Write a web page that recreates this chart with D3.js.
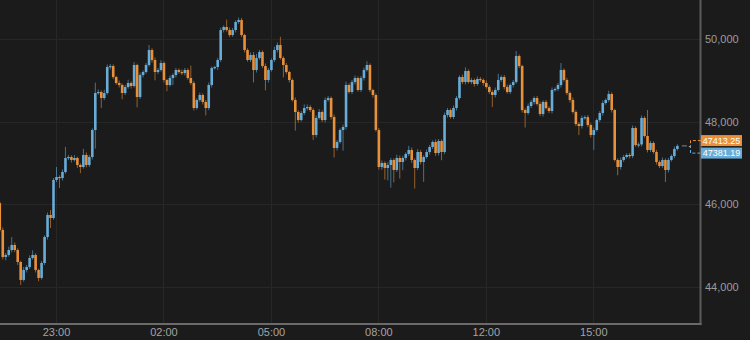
<!DOCTYPE html>
<html>
<head>
<meta charset="utf-8">
<script src="https://cdn.jsdelivr.net/npm/d3@7"></script>
<style>
  body { margin: 0; background: #1b1b1b; }
  svg { display: block; font-family: "Liberation Sans", Arial, sans-serif; }
</style>
</head>
<body>
<div id="chart"></div>
<script>
// 5-minute closes
const closes = [
  45379, 44726, 44775, 44895, 45016, 44895, 44605, 44171, 44412, 44484,
  44702, 44775, 44412, 44219, 44581, 45210, 45742, 45669, 46589, 46661,
  46637, 46782, 47121, 47145, 47073, 47121, 46952, 46903, 47194, 46952,
  47145, 47798, 48693, 48718, 48572, 48693, 49322, 49346, 49080, 48935,
  48887, 48693, 48838, 48935, 48863, 49371, 48597,
  49129, 49201, 49371, 49734, 49492, 49201, 49250, 49419, 49008, 48887,
  49056, 49129, 49250, 49201, 49177, 49250, 49056, 48935, 48330, 48524,
  48645, 48476, 48330, 48887, 49298, 49322, 49492, 50217, 50290, 50217,
  50096, 50217, 50411, 50459, 50096, 49734,
  49492, 49613, 49250, 49540, 49685, 49346, 49008, 49250, 49492, 49734, 49854,
  49540, 49371, 49201, 49008, 48524, 48234, 48040, 48209, 48330, 48355,
  48282, 47677, 48089, 48234, 48040, 48524, 48572, 48113, 47363, 47508,
  47798, 47871, 48887, 48718, 48959, 49056, 48766, 49056, 49250, 49371,
  48766, 48645, 47798, 46903, 47000, 46879, 46952, 47073, 46831, 47121,
  47024, 47121, 47218, 47315, 47073, 46879, 47266,
  47024, 47145, 47266, 47387, 47508, 47242, 47532, 47266, 48161, 48282,
  48113, 48330, 48572, 49080, 48959, 49225, 48959, 49008, 48911, 49032,
  49008, 48935, 48838, 48718, 48645, 48766, 49008, 49080, 48838, 48718,
  48887, 48959, 49588, 49346, 48282, 48209, 48379, 48476, 48572, 48427,
  48185, 48476, 48330, 48258, 48766, 48790, 48887,
  49250, 49008, 48693, 48524, 48234, 47943, 47895, 48089, 48110, 47919,
  47677, 47798, 48040, 48209, 48451, 48524, 48669, 48282, 47073, 46903,
  47073, 47145, 47194, 47169, 47847, 47436, 47450, 48089, 47653, 47315,
  47484, 47266, 47024, 46927, 47073, 46831, 47073, 47169, 47339, 47413.25
];
const firstOpen = 46030;

// wick length above / below the body, in points
const wickHi = [
  40, 60, 50, 80, 190, 60, 40, 30, 70, 50,
  60, 110, 40, 30, 50, 40, 60, 120, 50, 240,
  40, 60, 270, 50, 40, 70, 30, 40, 150, 60,
  50, 40, 250, 60, 40, 80, 60, 50, 40, 30,
  60, 40, 50, 80, 40, 70, 30, 60, 40, 50,
  120, 40, 60, 50, 70, 40, 30, 60, 40, 50,
  40, 60, 50, 40, 300, 50, 40, 60, 40, 50,
  60, 40, 30, 50, 60, 40, 180, 60, 50, 40,
  60, 50, 30, 40, 60, 70, 100, 50, 40, 60,
  50, 40, 80, 60, 200, 40, 50, 30, 40, 60,
  40, 50, 90, 60, 50, 40, 60, 70, 40, 60,
  50, 40, 60, 50, 40, 60, 80, 40, 50, 60,
  40, 50, 60, 90, 40, 30, 40, 50, 60, 40,
  70, 50, 40, 80, 60, 50, 40, 100, 60, 40,
  70, 50, 40, 60, 50, 40, 60, 50, 40, 60,
  50, 40, 60, 50, 40, 60, 90, 40, 50, 40,
  60, 50, 40, 60, 40, 50, 60, 150, 40, 50,
  60, 40, 50, 120, 40, 30, 40, 60, 50, 40,
  50, 60, 40, 50, 40, 60, 40, 50, 170, 40,
  50, 40, 60, 40, 50, 60, 40, 50, 40, 60,
  40, 50, 60, 40, 80, 40, 30, 40, 60, 50,
  40, 50, 60, 40, 50, 60, 40, 630, 50, 40,
  50, 40, 60, 40, 50, 40, 60, 40
];
const wickLo = [
  50, 60, 80, 40, 60, 50, 70, 120, 40, 60,
  50, 40, 60, 80, 40, 50, 60, 240, 40, 50,
  240, 60, 40, 50, 60, 40, 70, 150, 40, 60,
  50, 60, 450, 40, 240, 50, 40, 60, 50, 40,
  60, 150, 50, 40, 60, 40, 250, 50, 60, 40,
  40, 60, 200, 50, 40, 60, 150, 40, 170, 60,
  40, 50, 60, 40, 50, 60, 40, 50, 60, 180,
  50, 60, 40, 70, 50, 60, 40, 50, 40, 60,
  40, 50, 60, 40, 50, 300, 60, 40, 50, 250,
  60, 40, 50, 60, 40, 300, 50, 60, 40, 450,
  60, 40, 50, 60, 50, 120, 60, 40, 50, 60,
  40, 60, 230, 60, 40, 500, 60, 40, 50, 60,
  40, 50, 60, 40, 50, 60, 40, 60, 70, 280,
  300, 550, 300, 50, 400, 200, 60, 50, 70, 500,
  50, 60, 480, 40, 60, 50, 70, 60, 200, 50,
  60, 40, 50, 60, 40, 50, 60, 40, 50, 60,
  40, 50, 60, 40, 50, 290, 60, 40, 50, 60,
  40, 50, 60, 40, 50, 60, 350, 40, 50, 60,
  40, 50, 60, 40, 50, 60, 40, 50, 60, 40,
  50, 60, 40, 50, 220, 60, 40, 50, 60, 360,
  40, 50, 60, 40, 50, 60, 40, 200, 60, 50,
  40, 60, 50, 40, 60, 50, 40, 60, 50, 40,
  60, 50, 40, 290, 60, 40, 50, 40
];

const tickIdx = [19, 55, 91, 127, 163, 199];
const tickLabels = ["23:00", "02:00", "05:00", "08:00", "12:00", "15:00"];
const yTicks = [44000, 46000, 48000, 50000];
const tagPrices = [47413.25, 47381.19];

const W = 750, H = 340, plotW = 700, plotH = 323;
const upColor = "#68acd8", downColor = "#e8903a";

const candles = closes.map((c, i) => {
  const o = i === 0 ? firstOpen : closes[i - 1];
  return { i: i, o: o, c: c, h: Math.max(o, c) + wickHi[i], l: Math.min(o, c) - wickLo[i] };
});

const x = d3.scaleLinear().domain([19, 199]).range([56, 593.3]);
const y = d3.scaleLinear().domain([44000, 50000]).range([287, 39]);

const svg = d3.select("#chart").append("svg")
  .attr("width", W).attr("height", H);

svg.append("rect").attr("width", W).attr("height", H).attr("fill", "#1b1b1b");

svg.append("clipPath").attr("id", "plot")
  .append("rect").attr("width", plotW).attr("height", plotH);

// grid
svg.append("g").selectAll("line.h").data(yTicks).join("line")
  .attr("x1", 0).attr("x2", plotW)
  .attr("y1", d => Math.round(y(d)) + 0.5).attr("y2", d => Math.round(y(d)) + 0.5)
  .attr("stroke", "#272727");
svg.append("g").selectAll("line.v").data(tickIdx).join("line")
  .attr("x1", d => Math.round(x(d)) + 0.5).attr("x2", d => Math.round(x(d)) + 0.5)
  .attr("y1", 0).attr("y2", plotH)
  .attr("stroke", "#272727");

// candles
const cg = svg.append("g").attr("clip-path", "url(#plot)");
cg.selectAll("line.wick").data(candles).join("line")
  .attr("x1", d => x(d.i) + 0.5).attr("x2", d => x(d.i) + 0.5)
  .attr("y1", d => y(d.h)).attr("y2", d => y(d.l))
  .attr("stroke", d => d.c >= d.o ? upColor : downColor)
  .attr("stroke-opacity", 0.6);
cg.selectAll("rect.body").data(candles).join("rect")
  .attr("x", d => x(d.i) - 0.8)
  .attr("width", 2.6)
  .attr("y", d => y(Math.max(d.o, d.c)))
  .attr("height", d => Math.max(1.2, Math.abs(y(d.o) - y(d.c))))
  .attr("fill", d => d.c >= d.o ? upColor : downColor);

// axis lines
svg.append("line").attr("x1", plotW + 0.5).attr("x2", plotW + 0.5)
  .attr("y1", 0).attr("y2", plotH + 2).attr("stroke", "#5c5c5c").attr("stroke-width", 2);
svg.append("line").attr("x1", 0).attr("x2", plotW + 1.5)
  .attr("y1", plotH + 1).attr("y2", plotH + 1).attr("stroke", "#6a6a6a").attr("stroke-width", 2);

// y labels
const yAxis = svg.append("g").attr("transform", `translate(${plotW},0)`)
  .call(d3.axisRight(y).tickValues(yTicks).tickFormat(d3.format(",")).tickSize(0).tickPadding(5));
yAxis.select(".domain").remove();
yAxis.selectAll("text").attr("fill", "#9c9c9c").style("font-size", "11px");

// x labels
const xAxis = svg.append("g").attr("transform", `translate(0,${plotH})`)
  .call(d3.axisBottom(x).tickValues(tickIdx).tickFormat((d, k) => tickLabels[k]).tickSize(0).tickPadding(5));
xAxis.select(".domain").remove();
xAxis.selectAll("text").attr("fill", "#a4a4a4").style("font-size", "11px");

// last price tags
const last = candles[candles.length - 1];
const mid = (y(tagPrices[0]) + y(tagPrices[1])) / 2;
const tags = [
  { p: tagPrices[0], ty: mid - 6, color: downColor },
  { p: tagPrices[1], ty: mid + 6.5, color: upColor }
];
svg.append("line").attr("x1", x(last.i) + 5).attr("x2", x(last.i) + 10)
  .attr("y1", y(last.c)).attr("y2", y(last.c)).attr("stroke", "#7a8a96");
tags.forEach(t => {
  svg.append("path")
    .attr("d", `M${x(last.i) + 12},${mid} H690.5 V${t.ty} H701`)
    .attr("fill", "none").attr("stroke", t.color).attr("stroke-dasharray", "3,2");
  svg.append("rect").attr("x", 701).attr("y", t.ty - 5.5)
    .attr("width", 41).attr("height", 11).attr("fill", t.color);
  svg.append("text").attr("x", 721.5).attr("y", t.ty + 3.3)
    .attr("text-anchor", "middle")
    .attr("fill", "#ffffff").style("font-size", "9px")
    .text(d3.format(".2f")(t.p));
});
</script>
</body>
</html>
